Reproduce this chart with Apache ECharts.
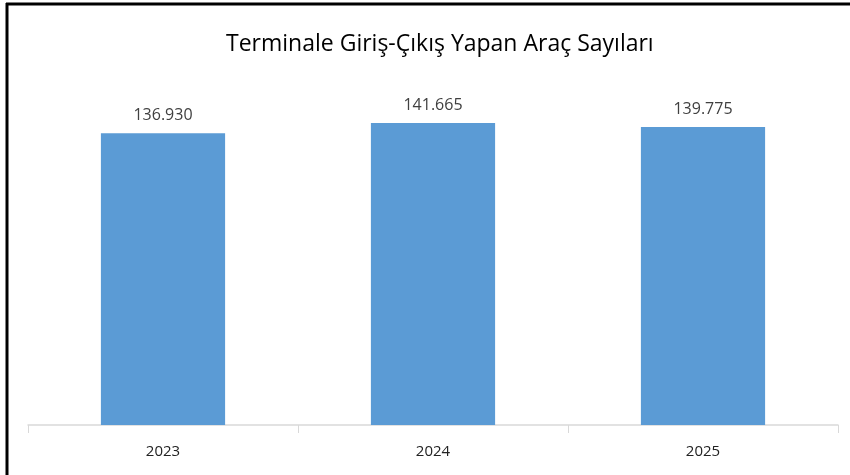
<!DOCTYPE html>
<html>
<head>
<meta charset="utf-8">
<script src="https://cdn.jsdelivr.net/npm/echarts@6/dist/echarts.min.js"></script>
<style>
  html, body { margin: 0; padding: 0; background: #fff; }
  #chart { width: 850px; height: 475px; }
</style>
</head>
<body>
<div id="chart"></div>
<script>
// Vehicles entering and leaving the terminal, by year
const years = ['2023', '2024', '2025'];
const vehicleCounts = [136930, 141665, 139775];

// Turkish thousands separator: 136930 -> "136.930"
function formatTR(v) {
  return String(v).replace(/\B(?=(\d{3})+(?!\d))/g, '.');
}

const chart = echarts.init(document.getElementById('chart'), null, { renderer: 'canvas' });

chart.setOption({
  backgroundColor: '#ffffff',
  animation: false,
  title: {
    text: 'Terminale Giriş-Çıkış Yapan Araç Sayıları',
    left: 221,
    top: 28,
    textStyle: {
      fontFamily: 'Open Sans',
      fontWeight: 'normal',
      fontSize: 23,
      color: '#000000'
    }
  },
  graphic: [
    // frame: top and left edges
    { type: 'line', shape: { x1: 6, y1: 4, x2: 850, y2: 4 }, style: { stroke: '#000', lineWidth: 3 } },
    { type: 'line', shape: { x1: 7, y1: 3, x2: 7, y2: 475 }, style: { stroke: '#000', lineWidth: 3 } }
  ],
  grid: {
    left: 28,
    right: 12,
    top: 84,
    bottom: 50,
    containLabel: false
  },
  xAxis: {
    type: 'category',
    data: years,
    axisLine: { lineStyle: { color: '#d9d9d9', width: 1.5 } },
    axisTick: { show: true, length: 8, lineStyle: { color: '#d9d9d9' } },
    axisLabel: {
      margin: 19,
      fontFamily: 'Open Sans',
      fontSize: 15,
      color: '#222222'
    }
  },
  yAxis: {
    type: 'value',
    min: 0,
    max: 160000,
    show: false,
    splitLine: { show: false }
  },
  series: [{
    type: 'bar',
    data: vehicleCounts,
    barWidth: '46%',
    itemStyle: { color: '#5b9bd5' },
    label: {
      show: true,
      position: 'top',
      distance: 10,
      formatter: p => formatTR(p.value),
      fontFamily: 'Open Sans',
      fontSize: 16,
      color: '#404040'
    }
  }]
});
</script>
</body>
</html>
